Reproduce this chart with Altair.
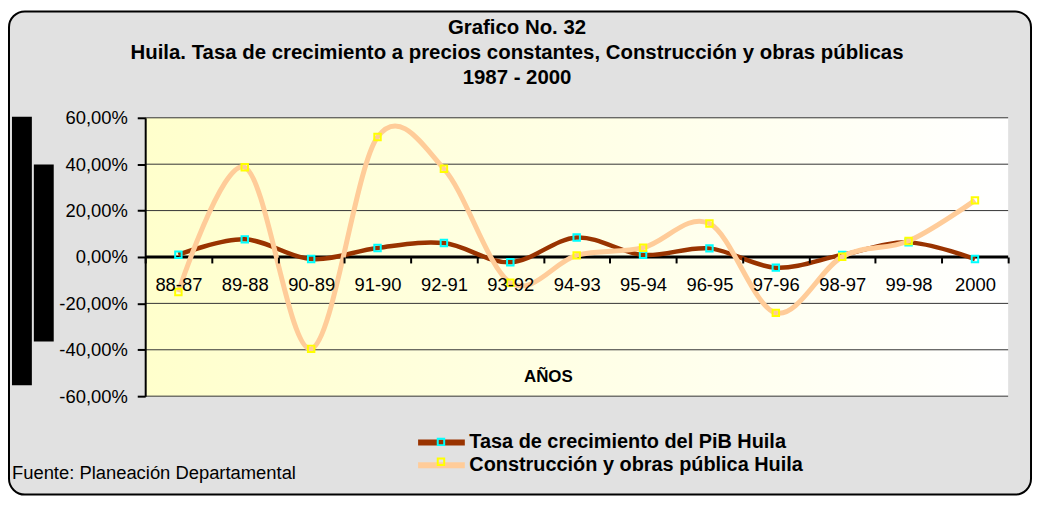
import altair as alt
import pandas as pd

# ---- data ----
categorias = ["88-87", "89-88", "90-89", "91-90", "92-91", "93-92", "94-93",
              "95-94", "96-95", "97-96", "98-97", "99-98", "2000"]
pib_huila = [0.010, 0.076, -0.009, 0.039, 0.060, -0.023, 0.084,
             0.009, 0.037, -0.046, 0.009, 0.063, -0.009]
construccion = [-0.151, 0.387, -0.396, 0.517, 0.380, -0.111, 0.007,
                0.040, 0.144, -0.241, 0.001, 0.069, 0.244]
ticks_y = [-0.6, -0.4, -0.2, 0.0, 0.2, 0.4, 0.6]
serie_pib = "Tasa de crecimiento del PiB Huila"
serie_con = "Construcción y obras pública Huila"
titulo = ["Grafico No. 32",
          "Huila. Tasa de crecimiento a precios constantes, Construcción y obras públicas",
          "1987 - 2000"]
titulo_x = "AÑOS"
fuente = "Fuente: Planeación Departamental"

W, H = 868, 280
FONT = "Liberation Sans"

df = pd.DataFrame({
    "cat": categorias * 2,
    "serie": [serie_pib] * len(categorias) + [serie_con] * len(categorias),
    "val": pib_huila + construccion,
})
grid_df = pd.DataFrame({"val": ticks_y})
zero_df = pd.DataFrame({"val": [0.0]})
one = pd.DataFrame({"a": [0]})

xscale = alt.Scale(type="band", domain=categorias, paddingInner=0, paddingOuter=0)
yscale = alt.Scale(domain=[-0.6, 0.6], nice=False, zero=False)
cscale = alt.Scale(domain=[serie_pib, serie_con], range=["#993300", "#FFCC99"])
sscale = alt.Scale(domain=[serie_pib + " ", serie_con + " "], range=["#00FFFF", "#FFFF00"])

# line legend: wide horizontal custom stroke, compact rows
legend = alt.Legend(title=None, orient="none", legendX=287.5, legendY=316,
                    direction="vertical", symbolType="M-3.133,0H3.133",
                    symbolSize=225, symbolStrokeWidth=6, labelFontSize=20,
                    labelFontWeight="bold", labelFont=FONT, labelColor="black",
                    labelOffset=17.5, rowPadding=-3, labelLimit=600)
# marker legend drawn on top of the line legend (no labels)
legend_m = alt.Legend(title=None, orient="none", legendX=287.5, legendY=316,
                      direction="vertical", symbolType="square", symbolSize=42,
                      symbolStrokeWidth=2, symbolFillColor="transparent",
                      labelFontSize=20, labelFont=FONT, labelExpr="''",
                      rowPadding=-3, labelLimit=600)

yaxis = alt.Axis(values=ticks_y, title=None, grid=False, domain=True,
                 domainColor="black", domainWidth=2, ticks=True, tickColor="black",
                 tickWidth=2, tickSize=8, labelPadding=10, labelFontSize=18.5,
                 labelFont=FONT, labelColor="black", zindex=1,
                 labelExpr="replace(replace(format(datum.value, '.2%'), '.', ','), '\u2212', '-')")

xaxis = alt.Axis(orient="bottom", offset=-140, domain=False, grid=False,
                 ticks=True, tickBand="extent", tickColor="black", tickWidth=2,
                 tickSize=6, labelPadding=13, labelFontSize=18.5, labelFont=FONT,
                 labelColor="black", labelAngle=0, labelOverlap=False, zindex=1,
                 title=titulo_x, titleX=405, titleY=120, titleFontSize=17,
                 titleFontWeight="bold", titleFont=FONT, titleBaseline="middle",
                 titleAlign="center", titleColor="black")

X = alt.X("cat:N", scale=xscale, axis=xaxis, sort=categorias)
Y = alt.Y("val:Q", scale=yscale, axis=yaxis)

# ---- decorations ----
frame = alt.Chart(one).mark_rect(cornerRadius=16, fill="#e1e1e1", stroke="black",
                                 strokeWidth=2).encode(
    x=alt.value(-137), x2=alt.value(891), y=alt.value(-107), y2=alt.value(379))
bar1 = alt.Chart(one).mark_rect(fill="black").encode(
    x=alt.value(-134), x2=alt.value(-114), y=alt.value(-1), y2=alt.value(269))
bar2 = alt.Chart(one).mark_rect(fill="black").encode(
    x=alt.value(-112), x2=alt.value(-92), y=alt.value(47), y2=alt.value(225))
plotbg = alt.Chart(one).mark_rect(
    color=alt.Gradient(gradient="linear",
                       stops=[alt.GradientStop(color="#FFFFCC", offset=0),
                              alt.GradientStop(color="#FFFFFF", offset=1)],
                       x1=0, x2=1, y1=0, y2=0)).encode(
    x=alt.value(0), x2=alt.value(W), y=alt.value(0), y2=alt.value(H))

grid = alt.Chart(grid_df).mark_rule(color="#333333", strokeWidth=1).encode(y=Y)
zero = alt.Chart(zero_df).mark_rule(color="black", strokeWidth=3).encode(y=Y)

# ---- series ----
base = alt.Chart(df)
line_pib = base.transform_filter(alt.datum.serie == serie_pib).mark_line(
    interpolate="cardinal", strokeWidth=4.5).encode(
    x=X, y=Y, color=alt.Color("serie:N", scale=cscale, legend=legend))
pts_pib = base.transform_filter(alt.datum.serie == serie_pib).transform_calculate(
    m="datum.serie + ' '").mark_point(
    shape="square", filled=False, size=42, strokeWidth=2, opacity=1).encode(
    x=X, y=Y, stroke=alt.Stroke("m:N", scale=sscale, legend=legend_m))
line_con = base.transform_filter(alt.datum.serie == serie_con).mark_line(
    interpolate="cardinal", strokeWidth=5).encode(
    x=X, y=Y, color=alt.Color("serie:N", scale=cscale, legend=legend))
pts_con = base.transform_filter(alt.datum.serie == serie_con).transform_calculate(
    m="datum.serie + ' '").mark_point(
    shape="square", filled=False, size=42, strokeWidth=2, opacity=1).encode(
    x=X, y=Y, stroke=alt.Stroke("m:N", scale=sscale, legend=legend_m))

# ---- texts ----
title_txt = alt.Chart(one).mark_text(
    lineBreak="\n", lineHeight=25, fontSize=20.5, fontWeight="bold", font=FONT,
    align="center", baseline="middle", color="black").encode(
    x=alt.value(374), y=alt.value(-90), text=alt.value("\n".join(titulo)))
foot_txt = alt.Chart(one).mark_text(
    fontSize=18.5, font=FONT, align="left", baseline="middle", color="black").encode(
    x=alt.value(-134), y=alt.value(357), text=alt.value(fuente))

chart = alt.layer(
    frame, bar1, bar2, plotbg, grid, zero,
    line_pib, pts_pib, line_con, pts_con,
    title_txt, foot_txt
).properties(
    width=W, height=H,
    autosize=alt.AutoSizeParams(type="none"),
    padding={"left": 138, "top": 109, "right": 26, "bottom": 102},
).configure_view(stroke=None).configure(font=FONT, background="white")

chart.save("out.html", embed_options={"renderer": "svg", "actions": False})
